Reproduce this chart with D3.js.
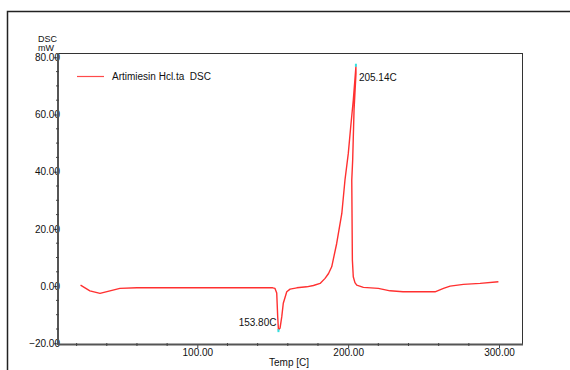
<!DOCTYPE html>
<html>
<head>
<meta charset="utf-8">
<script src="https://cdn.jsdelivr.net/npm/d3@7"></script>
<style>
  body { margin: 0; background: #fff; }
  svg text { font-family: "Liberation Sans", Arial, sans-serif; font-size: 10px; fill: #111; white-space: pre; }
</style>
</head>
<body>
<div id="container"></div>
<script>
// DSC trace (temp in C, heat flow in mW)
var temps = [22.6, 28.8, 35.5, 42.1, 48.7, 60, 80, 100, 120, 140, 150, 151.5, 152.65, 153.3, 153.8,
  154.85, 156, 157, 159.3, 161.5, 166, 172.5, 177, 181.4, 184.7, 187, 189.1, 192.4, 195.8, 197.9, 200.1,
  201.7, 203.4, 205.14, 205.2, 203.9, 203.0, 202.4, 202.8, 203.4, 204.5, 205.7, 210.1, 220, 227.8, 236.4,
  247, 257.6, 263.2, 267.6, 276.4, 287.5, 299.6];
var dsc = [0.35, -1.65, -2.55, -1.65, -0.8, -0.6, -0.6, -0.6, -0.6, -0.6, -0.6, -0.8, -2.4, -10.7, -15.4,
  -14.7, -10.7, -6.0, -2.0, -1.05, -0.6, -0.25, 0.2, 0.94, 2.7, 4.4, 6.75, 14.9, 25.4, 37.1, 46.4,
  55.7, 65.0, 76.7, 74.4, 61.5, 44.1, 37.1, 9.1, 3.25, 1.2, 0.35, -0.45, -0.8, -1.65, -2.0,
  -2.0, -2.0, -0.8, 0.0, 0.6, 0.94, 1.5];

var xTicks = [100, 200, 300];
var yTicks = [-20, 0, 20, 40, 60, 80];
var peaks = [{t: 205.14, v: 76.7, label: "205.14C"}, {t: 153.80, v: -15.4, label: "153.80C"}];
var seriesName = "Artimiesin Hcl.ta  DSC";

var width = 570, height = 370;
var box = {left: 58, top: 53, right: 522, bottom: 344};

var x = d3.scaleLinear().domain([100, 300]).range([197.3, 499]);
var y = d3.scaleLinear().domain([-20, 80]).range([343.3, 57.3]);

var svg = d3.select("#container").append("svg")
    .attr("width", width).attr("height", height);

// outer frame
svg.append("path")
    .attr("d", "M7.5,370 V11.5 H570")
    .attr("fill", "none").attr("stroke", "#222").attr("stroke-width", 1.5);

// plot box
svg.append("rect")
    .attr("x", box.left + 0.5).attr("y", box.top + 0.5)
    .attr("width", box.right - box.left).attr("height", box.bottom - box.top)
    .attr("fill", "none").attr("stroke", "#333").attr("stroke-width", 1);

// y axis
var yAxis = d3.axisLeft(y)
    .tickValues(yTicks)
    .tickSize(4)
    .tickFormat(function(d) { return d3.format(".2f")(d); });
var gy = svg.append("g").attr("transform", "translate(" + box.left + ",0)").call(yAxis);
gy.select(".domain").remove();
gy.selectAll("line").attr("stroke", "#444");
gy.selectAll("text").attr("x", 2).attr("dx", 0);
svg.append("line")
    .attr("x1", box.left).attr("x2", box.left).attr("y1", box.top).attr("y2", box.bottom + 1)
    .attr("stroke", "#555").attr("stroke-width", 2);

var yMinor = d3.range(-20, 80, 5).filter(function(d) { return d % 20 !== 0; });
svg.selectAll(".yminor").data(yMinor).enter().append("line")
    .attr("class", "yminor")
    .attr("x1", box.left - 2).attr("x2", box.left + 1)
    .attr("y1", function(d) { return y(d); }).attr("y2", function(d) { return y(d); })
    .attr("stroke", "#444");

// x axis
var xAxis = d3.axisBottom(x)
    .tickValues(xTicks)
    .tickSize(4)
    .tickFormat(function(d) { return d3.format(".2f")(d); });
var gx = svg.append("g").attr("transform", "translate(0," + box.bottom + ")").call(xAxis);
gx.select(".domain").remove();
gx.selectAll("line").attr("stroke", "#444");
gx.selectAll("text").attr("y", 5);
svg.append("line")
    .attr("x1", box.left).attr("x2", box.right + 1).attr("y1", box.bottom + 0.5).attr("y2", box.bottom + 0.5)
    .attr("stroke", "#555").attr("stroke-width", 2);

var xMinor = d3.range(20, 320, 20).filter(function(d) { return d % 100 !== 0; });
svg.selectAll(".xminor").data(xMinor).enter().append("line")
    .attr("class", "xminor")
    .attr("x1", function(d) { return x(d); }).attr("x2", function(d) { return x(d); })
    .attr("y1", box.bottom - 1).attr("y2", box.bottom + 2)
    .attr("stroke", "#444");

// axis titles
svg.append("text").attr("x", 57).attr("y", 42).attr("text-anchor", "end")
    .style("font-size", "9px").text("DSC");
svg.append("text").attr("x", 54).attr("y", 50.5).attr("text-anchor", "end")
    .style("font-size", "9px").text("mW");
svg.append("text").attr("x", 289).attr("y", 366).attr("text-anchor", "middle").text("Temp [C]");

// legend
svg.append("line")
    .attr("x1", 77).attr("x2", 104).attr("y1", 76.5).attr("y2", 76.5)
    .attr("stroke", "#ff4a4a").attr("stroke-width", 1.2);
svg.append("text").attr("x", 112).attr("y", 80).text(seriesName);

// trace
var data = temps.map(function(t, i) { return {t: t, v: dsc[i]}; });
var line = d3.line()
    .x(function(d) { return x(d.t); })
    .y(function(d) { return y(d.v); })
    .curve(d3.curveLinear);

svg.append("path")
    .datum(data)
    .attr("fill", "none")
    .attr("stroke", "#ff3030")
    .attr("stroke-width", 1.4)
    .attr("stroke-linejoin", "round")
    .attr("d", line);

// peak markers and labels
svg.selectAll(".pk").data(peaks).enter().append("rect")
    .attr("class", "pk")
    .attr("x", function(d) { return x(d.t) - 1; })
    .attr("y", function(d) { return d.v > 0 ? y(d.v) - 3 : y(d.v) - 1; })
    .attr("width", 2).attr("height", 3)
    .attr("fill", "#33e0e0");

svg.append("text").attr("x", x(peaks[0].t) + 3).attr("y", y(peaks[0].v) + 14).text(peaks[0].label);
svg.append("text").attr("x", x(peaks[1].t) - 2).attr("y", y(peaks[1].v) - 4)
    .attr("text-anchor", "end").text(peaks[1].label);
</script>
</body>
</html>
